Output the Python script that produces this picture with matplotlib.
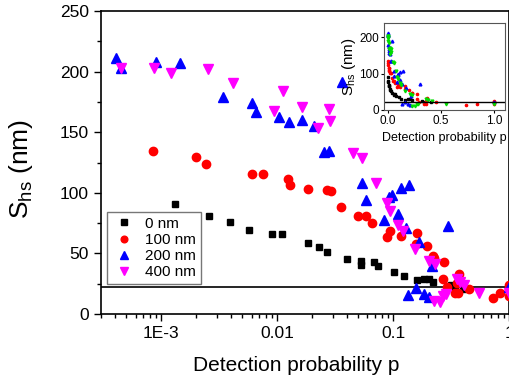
import numpy as np
import matplotlib
matplotlib.use('Agg')
import matplotlib.pyplot as plt
from matplotlib.ticker import FixedLocator, FixedFormatter, LogLocator, NullFormatter, MultipleLocator

plt.rcParams['font.family'] = ['Liberation Sans', 'DejaVu Sans']

# detection probability p / S_hs (nm)
p_0 = [0.00132, 0.00259, 0.00394, 0.00574, 0.00905, 0.0110, 0.0185, 0.023, 0.027,
       0.040, 0.053, 0.053, 0.068, 0.074, 0.102, 0.124, 0.161, 0.185, 0.204, 0.221,
       0.316, 0.345, 0.40, 1.0]
s_0 = [91, 81, 76, 69, 66, 66, 58.6, 55, 51,
       45.4, 43.7, 40.4, 43, 39.6, 34.7, 31.4, 28, 28.9, 28.9, 26.4,
       24, 22, 20.5, 22]

p_100 = [0.000853, 0.0020, 0.00244, 0.00608, 0.00757, 0.0124, 0.0129, 0.0185, 0.027,
         0.0292, 0.0357, 0.0499, 0.0585, 0.066, 0.094, 0.0887, 0.117, 0.161, 0.158,
         0.196, 0.221, 0.226, 0.275, 0.27, 0.37, 0.357, 0.29, 0.34, 0.36, 0.45,
         0.73, 0.835, 1.0, 1.0]
s_100 = [134.5, 130, 123.8, 115.5, 115.5, 111.4, 106.4, 103, 102,
         101.5, 88.3, 80.9, 80.9, 75, 68.5, 63.5, 64.4, 66.8, 57.8,
         56, 47.9, 46, 43, 29, 33, 25.6, 22, 17, 17, 20.6,
         13, 17, 24, 15]

p_200 = [0.000409, 0.000452, 0.000906, 0.00146, 0.00342, 0.00608, 0.0066, 0.0104,
         0.0127, 0.0164, 0.0209, 0.0254, 0.028, 0.0363, 0.054, 0.058, 0.0836, 0.0925,
         0.098, 0.110, 0.117, 0.129, 0.137, 0.168, 0.298, 0.217, 0.158, 0.135, 0.185,
         0.204, 1.0]
s_200 = [211, 203, 208, 207, 179, 174, 167, 162.5,
         158.4, 160, 155, 134, 134.5, 191.4, 108, 94, 77.6, 96.5,
         98, 82.5, 104, 71, 106.4, 59.4, 72.6, 39.6, 21.5, 15.7, 16.5,
         14, 22]

p_400 = [0.000452, 0.00087, 0.00122, 0.00254, 0.00418, 0.0113, 0.0094, 0.0164,
         0.0225, 0.028, 0.0286, 0.0452, 0.054, 0.0713, 0.0887, 0.094, 0.110, 0.122,
         0.155, 0.204, 0.230, 0.226, 0.254, 0.27, 0.285, 0.357, 0.38, 0.41, 0.55, 1.0]
s_400 = [203, 203, 199, 202, 190.6, 184, 167.5, 171,
         153.5, 169, 159, 133, 128.5, 108, 91.6, 85, 73.4, 68.5,
         53.6, 43.7, 41, 10.7, 10, 15, 16.5, 29, 26.4, 24, 17.3, 17]

labels = ['0 nm', '100 nm', '200 nm', '400 nm']
s_limit = 22

fig = plt.figure(figsize=(5.09, 3.83), dpi=100)
ax = fig.add_axes([0.198, 0.180, 0.802, 0.791])

ax.plot(p_0, s_0, 's', color='black', ms=5, mec='black', label=labels[0], zorder=3)
ax.plot(p_100, s_100, 'o', color='red', ms=6, mec='red', label=labels[1], zorder=3)
ax.plot(p_200, s_200, '^', color='blue', ms=6.5, mec='blue', label=labels[2], zorder=3)
ax.plot(p_400, s_400, 'v', color='magenta', ms=6.5, mec='magenta', label=labels[3], zorder=3)
ax.axhline(s_limit, color='black', lw=1.2, zorder=2)

ax.set_xscale('log')
ax.set_xlim(3e-4, 1)
ax.set_ylim(0, 250)
ax.xaxis.set_major_locator(FixedLocator([1e-3, 1e-2, 1e-1, 1]))
ax.xaxis.set_major_formatter(FixedFormatter(['1E-3', '0.01', '0.1', '1']))
ax.xaxis.set_minor_locator(LogLocator(base=10, subs=np.arange(2, 10)))
ax.xaxis.set_minor_formatter(NullFormatter())
ax.yaxis.set_major_locator(MultipleLocator(50))
ax.yaxis.set_minor_locator(MultipleLocator(25))
ax.tick_params(which='major', direction='out', length=5, width=1, labelsize=12.5, top=False, right=False)
ax.tick_params(which='minor', direction='out', length=3, width=1, top=False, right=False)
for sp in ax.spines.values():
    sp.set_linewidth(1.2)

ax.set_xlabel('Detection probability p', fontsize=15)
ax.xaxis.set_label_coords(0.478, -0.14)
ax.set_ylabel(r'S$_{\mathregular{hs}}$ (nm)', fontsize=19)
ax.yaxis.set_label_coords(-0.16, 0.48)

leg = ax.legend(loc='lower left', bbox_to_anchor=(0.015, 0.099), borderaxespad=0,
                fontsize=11, frameon=True,
                fancybox=False, edgecolor='#555555', handletextpad=0.6, borderpad=0.3,
                labelspacing=0.15, handlelength=1.6, markerscale=0.8)
leg.get_frame().set_linewidth(1.0)

# inset, linear x
ins = fig.add_axes([0.754, 0.713, 0.238, 0.227])
ins.plot(p_0, s_0, 's', color='black', ms=1.5, mec='black')
ins.plot(p_100, s_100, 'o', color='red', ms=1.6, mec='red')
ins.plot(p_200, s_200, '^', color='blue', ms=2, mec='blue')
ins.plot(p_400, s_400, 'v', color='#00dd00', ms=2, mec='#00dd00')
ins.axhline(s_limit, color='black', lw=1.0)
ins.set_xlim(-0.04, 1.1)
ins.set_ylim(0, 240)
ins.xaxis.set_major_locator(FixedLocator([0.0, 0.5, 1.0]))
ins.yaxis.set_major_locator(FixedLocator([0, 100, 200]))
ins.tick_params(direction='out', length=2.5, width=0.8, labelsize=8.5, pad=1)
for sp in ins.spines.values():
    sp.set_color('#555555')
    sp.set_linewidth(0.8)
ins.set_xlabel('Detection probability p', fontsize=9, labelpad=4)
ins.set_ylabel(r'S$_{\mathregular{hs}}$ (nm)', fontsize=11, labelpad=0.5)

fig.savefig('out.png', dpi=100)
